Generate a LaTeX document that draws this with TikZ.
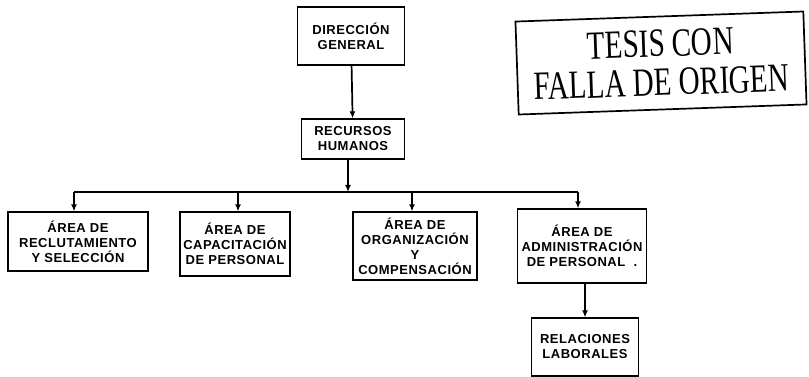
\documentclass[tikz,border=0pt]{standalone}
\usepackage{fontspec}
\setmainfont{Liberation Sans}
\newfontfamily\stampfont{Liberation Serif}
\usepackage{tikz}
\usetikzlibrary{arrows.meta, positioning}

\begin{document}
\begin{tikzpicture}[
    x=1pt, y=-1pt,
    >={Latex[length=7pt,width=6pt]},
    box/.style={draw, line width=1.3pt, rectangle, align=center, inner sep=2pt, font=\bfseries\fontsize{13}{15}\selectfont\addfontfeatures{LetterSpace=4}},
    link/.style={line width=1.7pt},
    stamp/.style={draw, line width=1.7pt, rectangle, align=center, inner sep=0pt, font=\stampfont\fontsize{40}{39}\selectfont}
]
\useasboundingbox (0,0) rectangle (809,377);

% Top
\node[box, minimum width=107pt, minimum height=58pt] (dir) at (351,36) {DIRECCIÓN\\GENERAL};
\node[box, minimum width=103pt, minimum height=40pt] (rh) at (353,139) {RECURSOS\\HUMANOS};

\draw[link, ->] (dir) -- (rh);

% Areas
\node[box, minimum width=140pt, minimum height=59pt] (rec) at (78,241.5) {ÁREA DE\\RECLUTAMIENTO\\Y SELECCIÓN};
\node[box, minimum width=110pt, minimum height=64pt] (cap) at (235,244) {ÁREA DE\\CAPACITACIÓN\\DE PERSONAL};
\node[box, minimum width=124pt, minimum height=68pt] (org) at (415,246) {ÁREA DE\\ORGANIZACIÓN\\Y\\COMPENSACIÓN};
\node[box, minimum width=129pt, minimum height=74pt] (adm) at (582,246) {ÁREA DE\\ADMINISTRACIÓN\\DE PERSONAL~~.};
\node[box, minimum width=107pt, minimum height=58pt] (rel) at (585,347) {RELACIONES\\LABORALES};

% Bar
\coordinate (bar) at (348,192);
\coordinate (recTop) at (74,192);
\coordinate (capTop) at (238,192);
\coordinate (orgTop) at (412,192);
\coordinate (admTop) at (578,192);

\draw[link, ->] (rh.south -| bar) -- (bar);
\draw[link] (recTop) -- (admTop);
\draw[link, ->] (recTop) -- (recTop |- rec.north);
\draw[link, ->] (capTop) -- (capTop |- cap.north);
\draw[link, ->] (orgTop) -- (orgTop |- org.north);
\draw[link, ->] (admTop) -- (admTop |- adm.north);
\draw[link, ->] (adm.south -| rel) -- (rel);

% Stamp
\node[stamp, minimum width=288pt, minimum height=93pt, rotate=2] (tesis) at (661,63) {\scalebox{0.73}[1]{TESIS CON}\\\scalebox{0.73}[1]{FALLA DE ORIGEN}};

\end{tikzpicture}
\end{document}
